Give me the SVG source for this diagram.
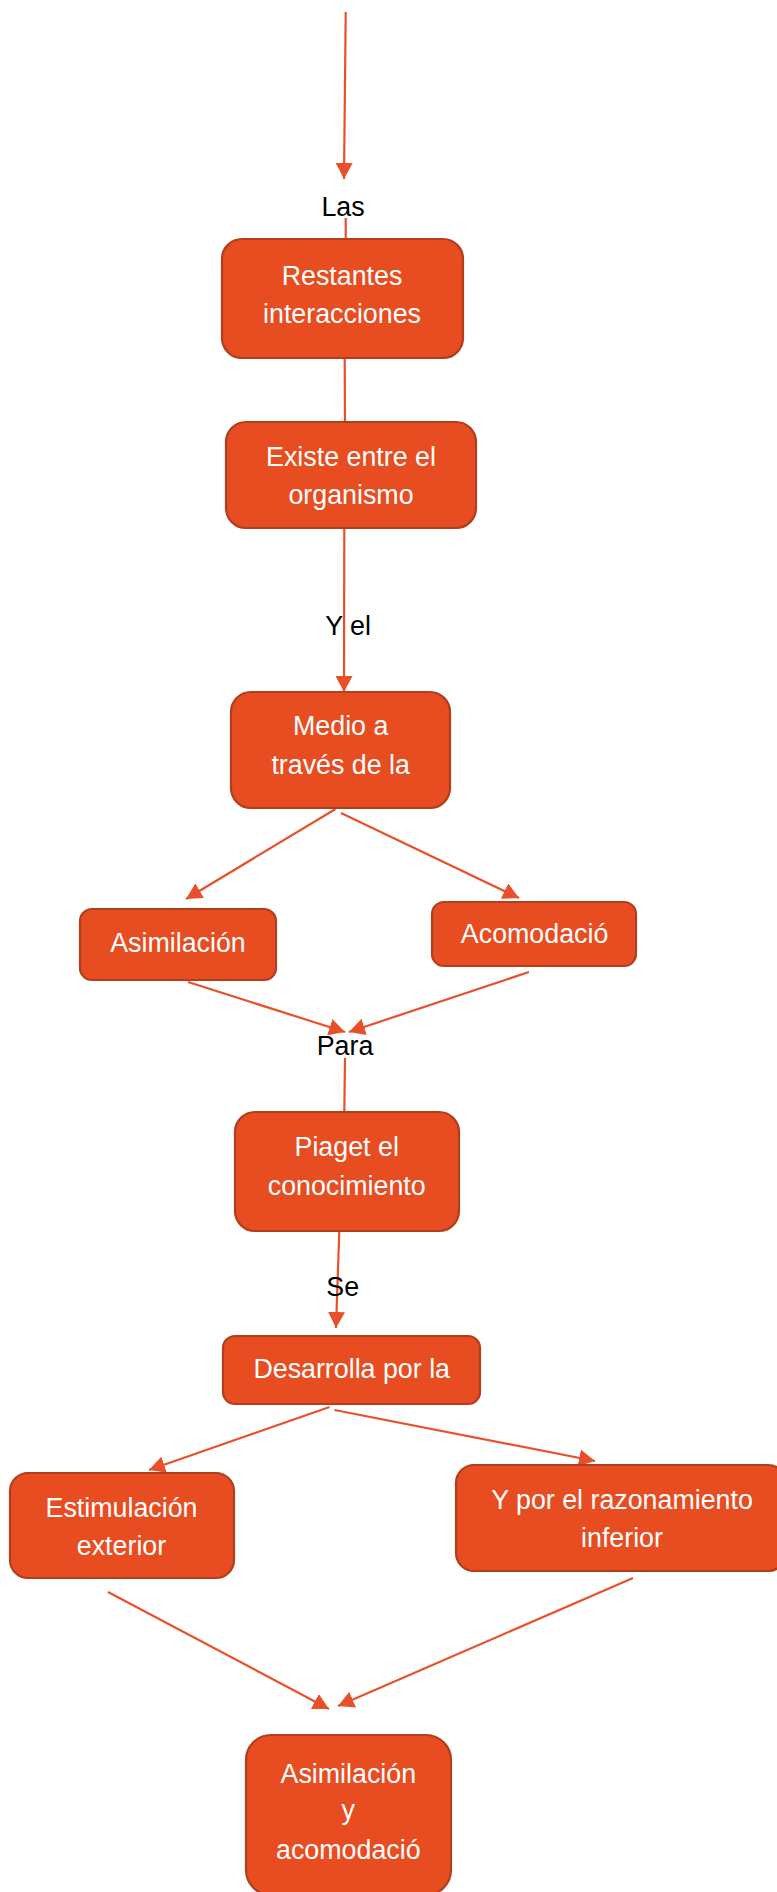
<svg xmlns="http://www.w3.org/2000/svg" width="777" height="1892" viewBox="0 0 777 1892">
<style>
.node rect{fill:#E84D22;stroke:#B13E1C;stroke-width:2.2}
.node text{fill:#FFFFFF;font-family:"Liberation Sans",Arial,sans-serif;font-size:26.8px;text-anchor:middle}
.lbl{fill:#000000;font-family:"Liberation Sans",Arial,sans-serif;font-size:26.8px;text-anchor:middle}
#connectors line{stroke:#E8502A;stroke-width:2.2;fill:none}
.arr{marker-end:url(#ah)}
</style>
<defs>
<marker id="ah" markerUnits="userSpaceOnUse" markerWidth="17" markerHeight="17" viewBox="0 0 17 17" refX="16" refY="8.5" orient="auto">
<path d="M0,0 L16,8.5 L0,17 z" fill="#E8502A"/>
</marker>
</defs>
<rect width="777" height="1892" fill="#FFFFFF"/>
<g id="connectors">
<line class="arr" x1="345.7" y1="12" x2="344" y2="179"/>
<line x1="345.7" y1="218" x2="345.7" y2="239"/>
<line x1="344.7" y1="358" x2="345" y2="422"/>
<line class="arr" x1="344.3" y1="528" x2="344" y2="692"/>
<line class="arr" x1="335.5" y1="809" x2="186" y2="899"/>
<line class="arr" x1="341" y1="813" x2="519" y2="898"/>
<line class="arr" x1="188" y1="982" x2="345" y2="1032"/>
<line class="arr" x1="529" y1="972" x2="349" y2="1032"/>
<line x1="345" y1="1058" x2="344.3" y2="1112"/>
<line class="arr" x1="339.3" y1="1231" x2="336" y2="1328"/>
<line class="arr" x1="329.5" y1="1407" x2="149" y2="1470"/>
<line class="arr" x1="334.5" y1="1410" x2="595" y2="1461"/>
<line class="arr" x1="108" y1="1592" x2="329" y2="1709"/>
<line class="arr" x1="633" y1="1578" x2="338" y2="1706"/>
</g>
<g id="labels">
<text class="lbl" x="343" y="216">Las</text>
<text class="lbl" x="348" y="635">Y el</text>
<text class="lbl" x="345" y="1055">Para</text>
<text class="lbl" x="342.7" y="1296">Se</text>
</g>
<g id="n1" class="node"><rect x="222" y="239" width="241" height="119" rx="20"/><text x="342" y="285">Restantes</text><text x="342" y="323">interacciones</text></g>
<g id="n2" class="node"><rect x="226" y="422" width="250" height="106" rx="20"/><text x="351" y="466">Existe entre el</text><text x="351" y="504">organismo</text></g>
<g id="n3" class="node"><rect x="231" y="692" width="219" height="116" rx="20"/><text x="340.7" y="735">Medio a</text><text x="340.7" y="774">través de la</text></g>
<g id="n4" class="node"><rect x="80" y="909" width="196" height="71" rx="12"/><text x="178" y="952">Asimilación</text></g>
<g id="n5" class="node"><rect x="432" y="902" width="204" height="64" rx="12"/><text x="534.6" y="943">Acomodació</text></g>
<g id="n6" class="node"><rect x="235" y="1112" width="224" height="119" rx="20"/><text x="346.7" y="1156">Piaget el</text><text x="346.7" y="1195">conocimiento</text></g>
<g id="n7" class="node"><rect x="223" y="1336" width="257" height="68" rx="12"/><text x="351.7" y="1378">Desarrolla por la</text></g>
<g id="n8" class="node"><rect x="10" y="1473" width="224" height="105" rx="18"/><text x="121.5" y="1517">Estimulación</text><text x="121.5" y="1555">exterior</text></g>
<g id="n9" class="node"><rect x="456" y="1465" width="330" height="106" rx="18"/><text x="622" y="1509">Y por el razonamiento</text><text x="622" y="1547">inferior</text></g>
<g id="n10" class="node"><rect x="246" y="1735" width="205" height="160" rx="25"/><text x="348.3" y="1783">Asimilación</text><text x="348.3" y="1819">y</text><text x="348.3" y="1859">acomodació</text></g>
</svg>
